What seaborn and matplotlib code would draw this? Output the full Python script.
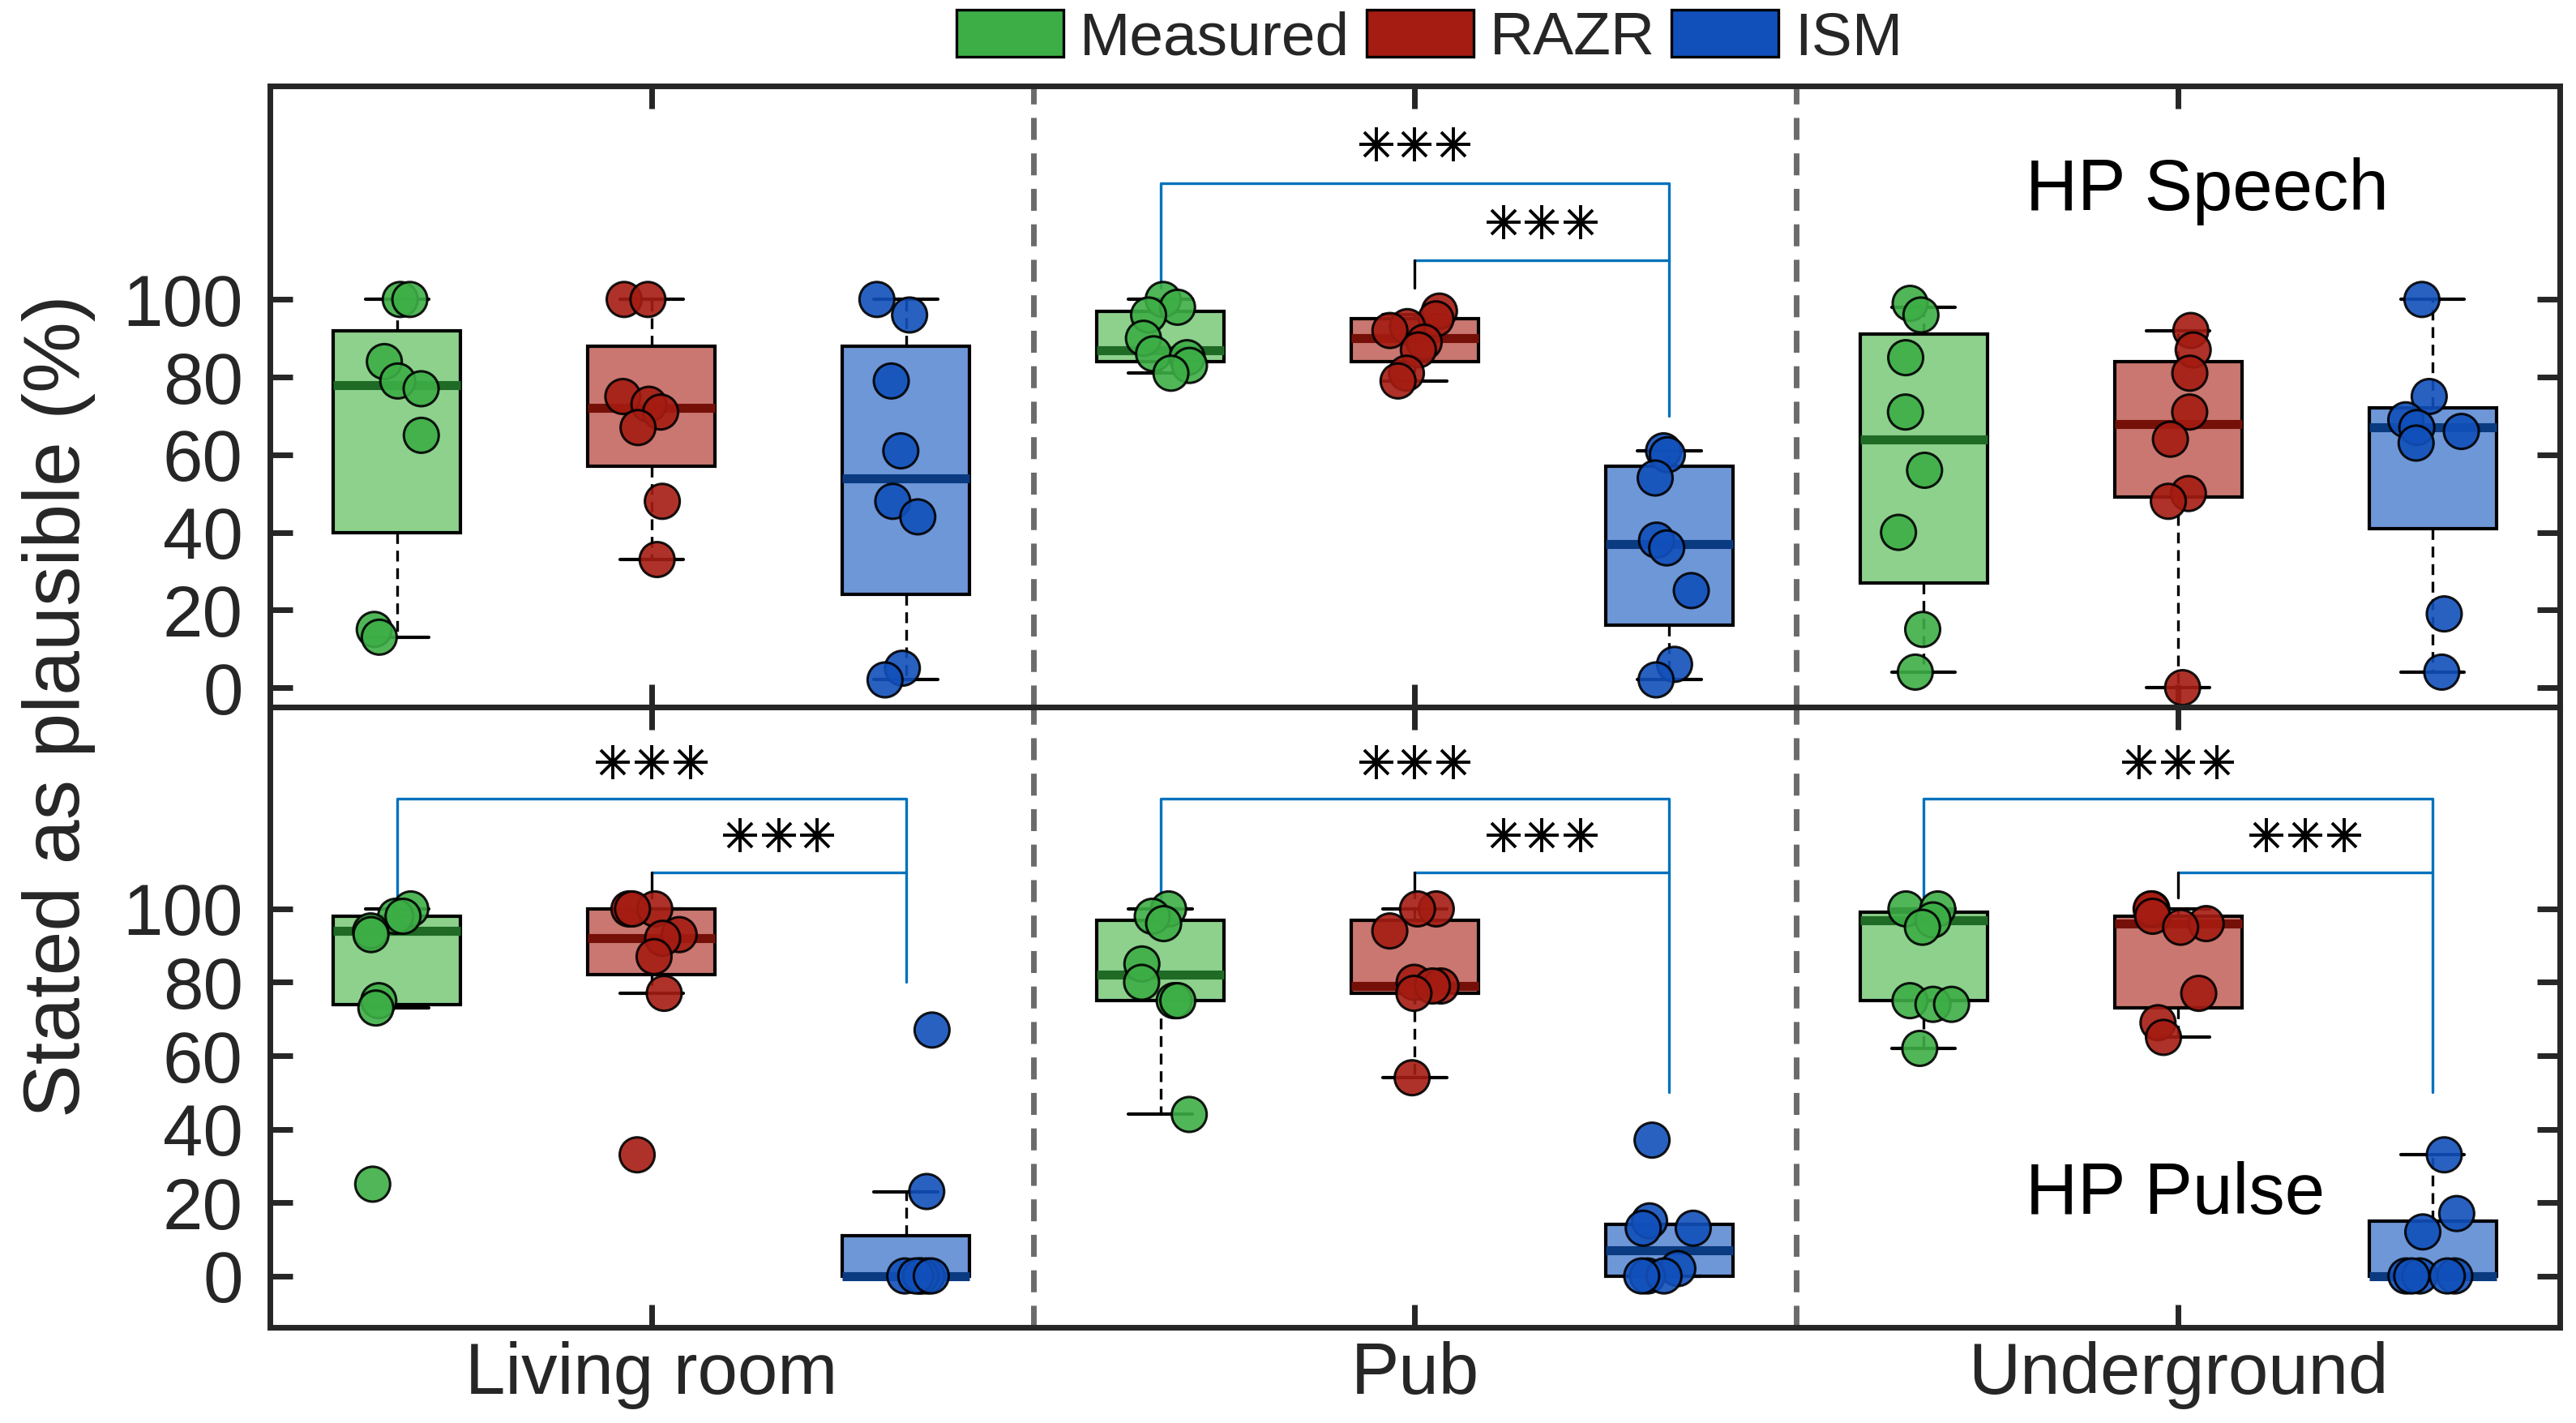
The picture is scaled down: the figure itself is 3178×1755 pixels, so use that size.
import matplotlib.pyplot as plt
import matplotlib.patches as mpatches
import seaborn as sns
import numpy as np
import pandas as pd

sns.set_theme(style="ticks")
plt.rcParams['font.family'] = ['Liberation Sans', 'DejaVu Sans']

rooms = ['Living room', 'Pub', 'Underground']
models = ['Measured', 'RAZR', 'ISM']
panels = ['HP Speech', 'HP Pulse']

# ratings (%) of the 8 listeners, one list per room
speech_measured = [[100, 100, 84, 79, 77, 65, 15, 13],
                   [100, 98, 96, 90, 86, 85, 83, 81],
                   [99, 96, 85, 71, 56, 40, 15, 4]]
speech_razr = [[100, 100, 75, 73, 71, 67, 48, 33],
               [97, 95, 93, 92, 89, 87, 81, 79],
               [92, 87, 81, 71, 64, 50, 48, 0]]
speech_ism = [[100, 96, 79, 61, 48, 44, 5, 2],
              [61, 60, 54, 38, 36, 25, 6, 2],
              [100, 75, 69, 67, 66, 63, 19, 4]]
pulse_measured = [[100, 98, 98, 94, 93, 75, 73, 25],
                  [100, 98, 96, 85, 80, 75, 75, 44],
                  [100, 100, 97, 95, 75, 74, 74, 62]]
pulse_razr = [[100, 100, 100, 93, 92, 87, 77, 33],
              [100, 100, 94, 80, 79, 79, 77, 54],
              [100, 100, 98, 96, 95, 77, 69, 65]]
pulse_ism = [[67, 23, 0, 0, 0, 0, 0, 0],
             [37, 15, 13, 13, 2, 0, 0, 0],
             [33, 17, 12, 0, 0, 0, 0, 0]]

# box statistics: whisker low, q1, median, q3, whisker high
speech_box_measured = [[13, 40, 78, 92, 100], [81, 84, 87, 97, 100], [4, 27, 64, 91, 98]]
speech_box_razr = [[33, 57, 72, 88, 100], [79, 84, 90, 95, 96], [0, 49, 68, 84, 92]]
speech_box_ism = [[2, 24, 54, 88, 100], [2, 16, 37, 57, 61], [4, 41, 67, 72, 100]]
pulse_box_measured = [[73, 74, 94, 98, 100], [44, 75, 82, 97, 100], [62, 75, 97, 99, 100]]
pulse_box_razr = [[77, 82, 92, 100, 100], [54, 77, 79, 97, 100], [65, 73, 96, 98, 100]]
pulse_box_ism = [[0, 0, 0, 11, 23], [0, 0, 7, 14, 14], [0, 0, 0, 15, 33]]

# significance brackets (*** both vs ISM)
sig_panel = [0, 1, 1, 1]
sig_room = [1, 0, 1, 2]
sig_end = [70, 80, 50, 50]
sig_outer, sig_inner, sig_foot = 130, 110, 103
star_outer, star_inner = 140, 120

points = [[speech_measured, speech_razr, speech_ism],
          [pulse_measured, pulse_razr, pulse_ism]]
boxes = [[speech_box_measured, speech_box_razr, speech_box_ism],
         [pulse_box_measured, pulse_box_razr, pulse_box_ism]]

base_colors = ['#3dae46', '#a51c12', '#1150bb']
box_colors = ['#8dd18d', '#c97770', '#6e97d8']
median_colors = ['#1f6b25', '#751008', '#0a3a80']
bracket_color = '#0072bd'
dark = '#262626'

rows = []
for p, panel in enumerate(panels):
    for m, model in enumerate(models):
        for r, room in enumerate(rooms):
            for v in points[p][m][r]:
                rows.append({'panel': panel, 'model': model, 'pos': r * 3 + m + 1, 'value': v})
df = pd.DataFrame(rows)

fig = plt.figure(figsize=(15.89, 8.775), dpi=200)
ax_top = fig.add_axes([0.10478, 0.50313, 0.88892, 0.43647])
ax_bot = fig.add_axes([0.10478, 0.06724, 0.88892, 0.43589])
axes = [ax_top, ax_bot]
ylims = [(-5, 155), (-14, 155)]

np.random.seed(3)
for p, ax in enumerate(axes):
    for m in range(3):
        stats = [dict(whislo=b[0], q1=b[1], med=b[2], q3=b[3], whishi=b[4], fliers=[])
                 for b in boxes[p][m]]
        ax.bxp(stats, positions=[r * 3 + m + 1 for r in range(3)], widths=0.5,
               patch_artist=True, showfliers=False, capwidths=0.25,
               boxprops=dict(facecolor=box_colors[m], edgecolor='black', linewidth=1.5),
               medianprops=dict(color=median_colors[m], linewidth=4),
               whiskerprops=dict(color='black', linestyle=(0, (4, 2.5)), linewidth=1.2),
               capprops=dict(color='black', linewidth=1.5))

    sns.stripplot(data=df[df['panel'] == panels[p]], x='pos', y='value', hue='model',
                  hue_order=models, palette=dict(zip(models, base_colors)),
                  native_scale=True, jitter=0.12, size=15.5, linewidth=1.1,
                  edgecolor='black', alpha=0.9, legend=False, ax=ax, zorder=3)

    for xd in [3.5, 6.5]:
        ax.axvline(xd, color='#6b6b6b', linestyle=(0, (3.9, 2.4)), linewidth=2.5, zorder=1)

    ax.set_xlim(0.5, 9.5)
    ax.set_ylim(*ylims[p])
    ax.set_yticks([0, 20, 40, 60, 80, 100])
    ax.set_xticks([2, 5, 8])
    ax.set_xlabel('')
    ax.set_ylabel('')
    ax.tick_params(direction='in', length=10, width=2.5, top=True, right=True,
                   labelsize=32, color=dark, labelcolor=dark)
    ax.tick_params(axis='y', pad=12)
    ax.tick_params(axis='x', pad=6)
    for s in ax.spines.values():
        s.set_visible(True)
        s.set_linewidth(2.5)
        s.set_color(dark)

ax_top.tick_params(labelbottom=False)
ax_bot.set_xticklabels(rooms)

# significance brackets
for pan, room, end in zip(sig_panel, sig_room, sig_end):
    ax = axes[pan]
    g, rz, ism = room * 3 + 1, room * 3 + 2, room * 3 + 3
    ax.plot([g, g, ism, ism], [sig_foot, sig_outer, sig_outer, end], color=bracket_color, lw=1.2, zorder=2)
    ax.plot([rz, ism], [sig_inner, sig_inner], color=bracket_color, lw=1.2, zorder=2)
    ax.plot([rz, rz], [sig_foot, sig_inner], color='black', lw=1.2, zorder=2)
    for cx, cy in [(rz, star_outer), ((rz + ism) / 2, star_inner)]:
        xs = [cx - 0.152, cx, cx + 0.152]
        ax.plot(xs, [cy] * 3, ls='none', marker='+', ms=15, mew=1.4, color='black')
        ax.plot(xs, [cy] * 3, ls='none', marker='x', ms=10.8, mew=1.4, color='black')

ax_top.text(7.4, 123, panels[0], fontsize=32, ha='left', va='baseline', color='black')
ax_bot.text(7.4, 17, panels[1], fontsize=32, ha='left', va='baseline', color='black')

fig.text(0.0227, 0.504, 'Stated as plausible (%)', rotation=90, ha='center', va='center',
         fontsize=35.5, color=dark)

handles = [mpatches.Patch(facecolor=c, edgecolor='black', linewidth=1.2, label=l)
           for c, l in zip(base_colors, models)]
fig.legend(handles=handles, loc='center', bbox_to_anchor=(0.555, 0.973), ncol=3,
           frameon=False, fontsize=27, handlelength=1.76, handleheight=0.81,
           handletextpad=0.27, columnspacing=0.27, borderaxespad=0, borderpad=0)

fig.savefig('out.png', dpi=200, facecolor='white')
